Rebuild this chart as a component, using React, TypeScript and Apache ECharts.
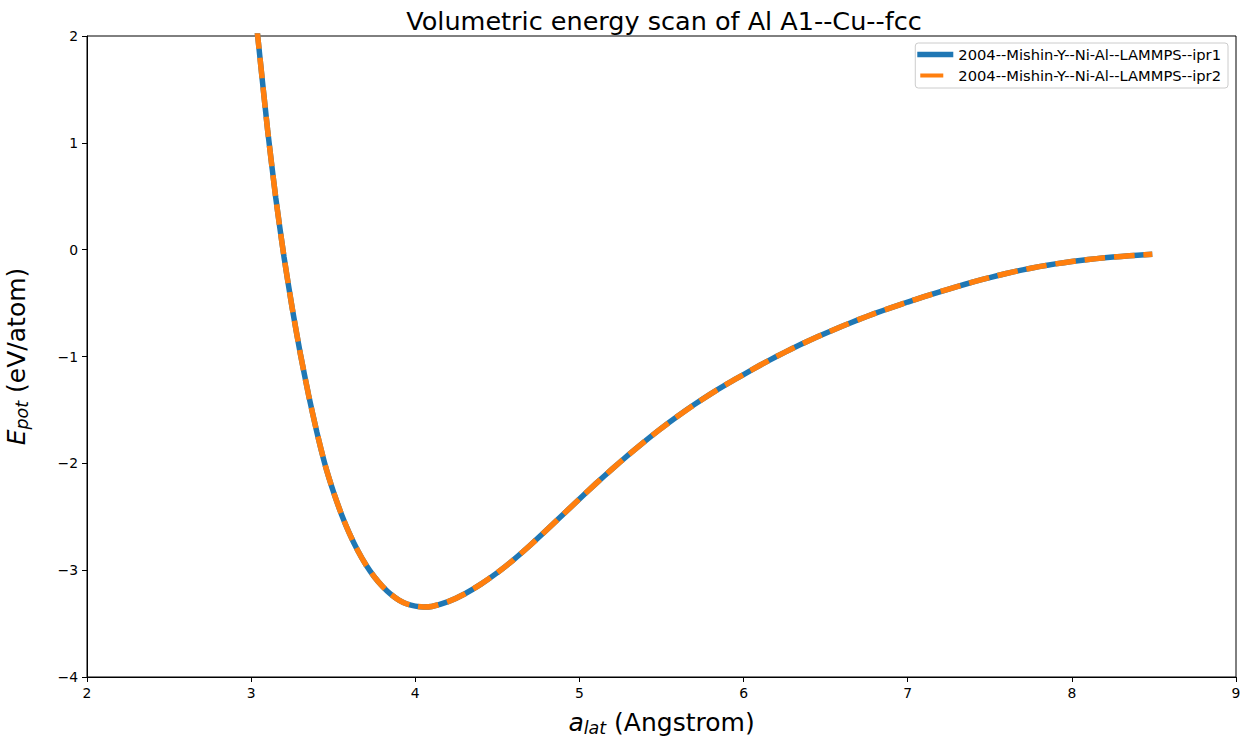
import React, { useEffect, useRef } from "react";
import * as echarts from "echarts";

const titleText = "Volumetric energy scan of Al A1--Cu--fcc";
const seriesNames = ["2004--Mishin-Y--Ni-Al--LAMMPS--ipr1", "2004--Mishin-Y--Ni-Al--LAMMPS--ipr2"];
const latticeA: number[] = [3.0, 3.04, 3.1, 3.15, 3.2, 3.25, 3.3, 3.35, 3.4, 3.45, 3.5, 3.55, 3.6, 3.65, 3.7, 3.75, 3.8, 3.85, 3.9, 3.95, 4.0, 4.05, 4.1, 4.2, 4.3, 4.4, 4.5, 4.6, 4.7, 4.8, 4.9, 5.0, 5.1, 5.2, 5.3, 5.4, 5.5, 5.6, 5.7, 5.8, 5.9, 6.0, 6.1, 6.2, 6.3, 6.4, 6.5, 6.6, 6.7, 6.8, 6.9, 7.0, 7.1, 7.2, 7.3, 7.4, 7.5, 7.6, 7.7, 7.8, 7.9, 8.0, 8.1, 8.2, 8.3, 8.4, 8.49];
const energy: number[] = [2.62, 2.0, 1.124, 0.484, -0.066, -0.546, -0.976, -1.361, -1.706, -2.011, -2.261, -2.476, -2.661, -2.819, -2.952, -3.062, -3.152, -3.225, -3.28, -3.317, -3.337, -3.345, -3.34, -3.295, -3.223, -3.131, -3.023, -2.901, -2.767, -2.625, -2.479, -2.333, -2.19, -2.052, -1.919, -1.792, -1.671, -1.557, -1.45, -1.35, -1.257, -1.169, -1.082, -1.0, -0.923, -0.85, -0.782, -0.717, -0.655, -0.597, -0.542, -0.49, -0.44, -0.392, -0.346, -0.302, -0.261, -0.223, -0.189, -0.159, -0.133, -0.111, -0.092, -0.076, -0.063, -0.052, -0.044];
const xTicks = [2, 3, 4, 5, 6, 7, 8, 9];
const yTicks = [-4, -3, -2, -1, 0, 1, 2];

const FONT = "DejaVu Sans";

export default function App() {
  const ref = useRef<HTMLDivElement>(null);
  useEffect(() => {
    if (!ref.current) return;
    const chart = echarts.init(ref.current, null, { renderer: "svg" });
    const data = latticeA.map((x, i) => [x, energy[i]]);
    const fmt = (v: number) => (v < 0 ? "\u2212" + Math.abs(v) : String(v));
    const nameRich = {
      it: { fontSize: 25, fontStyle: "italic", color: "#000", fontFamily: FONT },
      sub: { fontSize: 17.5, fontStyle: "italic", color: "#000", padding: [12, 0, 0, 0], fontFamily: FONT },
      rm: { fontSize: 25, color: "#000", fontFamily: FONT },
    };
    chart.setOption({
      animation: false,
      backgroundColor: "#fff",
      textStyle: { fontFamily: FONT },
      title: {
        text: titleText,
        left: 659,
        textAlign: "center",
        top: 3,
        textStyle: { fontSize: 25.5, fontWeight: "normal", color: "#000", fontFamily: FONT },
      },
      grid: {
        left: 87,
        right: 12,
        top: 36,
        bottom: 63,
        containLabel: false,
        outerBoundsMode: "none",
        show: true,
        borderColor: "#000",
        borderWidth: 1,
        backgroundColor: "transparent",
      },
      legend: {
        right: 20,
        top: 43,
        orient: "vertical",
        backgroundColor: "#fff",
        borderColor: "#cccccc",
        borderWidth: 1,
        borderRadius: 3,
        padding: [4, 7, 5, 2],
        itemGap: 6,
        itemWidth: 36,
        itemHeight: 5.5,
        textStyle: { fontSize: 14.7, color: "#000", fontFamily: FONT },
        data: [
          { name: seriesNames[0], icon: "rect", itemStyle: { color: "#1f77b4" } },
          {
            name: seriesNames[1],
            icon: "path://M0,0h0.05v0.05h-0.05z M3,0h23v4h-23z M35.95,3.95h0.05v0.05h-0.05z",
            itemStyle: { color: "#ff7f0e" },
          },
        ],
      },
      xAxis: {
        type: "value",
        min: xTicks[0],
        max: xTicks[xTicks.length - 1],
        interval: 1,
        splitLine: { show: false },
        axisLine: { show: true, onZero: false, lineStyle: { color: "#000", width: 1 } },
        axisTick: { show: true, length: 5, lineStyle: { color: "#000" } },
        axisLabel: { fontSize: 13.9, color: "#000", margin: 9, formatter: fmt },
        name: "{it|a}{sub|lat}{rm| (Angstrom)}",
        nameLocation: "middle",
        nameGap: 30,
        nameTextStyle: { rich: nameRich },
      },
      yAxis: {
        type: "value",
        min: yTicks[0],
        max: yTicks[yTicks.length - 1],
        interval: 1,
        splitLine: { show: false },
        axisLine: { show: true, onZero: false, lineStyle: { color: "#000", width: 1 } },
        axisTick: { show: true, length: 5, lineStyle: { color: "#000" } },
        axisLabel: { fontSize: 13.9, color: "#000", margin: 9, formatter: fmt },
        name: "{it|E}{sub|pot}{rm| (eV/atom)}",
        nameLocation: "middle",
        nameRotate: 90,
        nameGap: 56,
        nameTextStyle: { rich: nameRich },
      },
      series: [
        {
          name: seriesNames[0],
          type: "line",
          data,
          smooth: 0.2,
          showSymbol: false,
          symbol: "none",
          clip: true,
          itemStyle: { color: "#1f77b4" },
          lineStyle: { color: "#1f77b4", width: 5.5 },
        },
        {
          name: seriesNames[1],
          type: "line",
          data,
          smooth: 0.2,
          showSymbol: false,
          symbol: "none",
          clip: true,
          itemStyle: { color: "#ff7f0e" },
          lineStyle: { color: "#ff7f0e", width: 5.5, type: [20.6, 8.9] },
        },
      ],
    });
    return () => chart.dispose();
  }, []);
  return <div ref={ref} style={{ width: 1248, height: 740, position: "absolute", left: 0, top: 0 }} />;
}
